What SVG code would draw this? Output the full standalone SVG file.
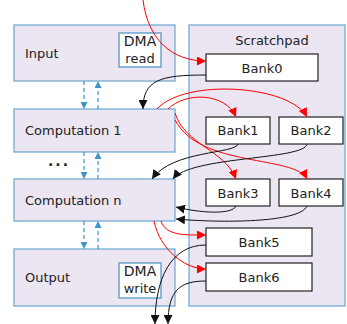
<svg xmlns="http://www.w3.org/2000/svg" width="347" height="324" viewBox="0 0 347 324">
<defs>
<style>
.box{fill:#ebe6f2;stroke:#6aa6cf;stroke-width:1.2}
.inner{fill:#ffffff;stroke:#4a8fc0;stroke-width:1.2}
.bank{fill:#ffffff;stroke:#222222;stroke-width:1.2}
text{font-family:"DejaVu Sans","Liberation Sans",sans-serif;font-size:13px;fill:#222222}
.c{text-anchor:middle}
.dma{font-size:14px}
.red{fill:none;stroke:#ff0000;stroke-width:1;marker-end:url(#ar)}
.blk{fill:none;stroke:#111111;stroke-width:1;marker-end:url(#ab)}
.dash{fill:none;stroke:#3a95c8;stroke-width:1.2;stroke-dasharray:4,3;marker-end:url(#au)}
</style>
<marker id="ar" viewBox="0 0 10 10" refX="10" refY="5" markerWidth="9" markerHeight="9" markerUnits="userSpaceOnUse" orient="auto"><path d="M0,0 L10,5 L0,10 z" fill="#ff0000"/></marker>
<marker id="ab" viewBox="0 0 10 10" refX="10" refY="5" markerWidth="9" markerHeight="9" markerUnits="userSpaceOnUse" orient="auto"><path d="M0,0 L10,5 L0,10 z" fill="#111111"/></marker>
<marker id="au" viewBox="0 0 10 10" refX="10" refY="5" markerWidth="7" markerHeight="7" markerUnits="userSpaceOnUse" orient="auto"><path d="M0,0 L10,5 L0,10 z" fill="#3a95c8"/></marker>
</defs>
<rect width="347" height="324" fill="#ffffff"/>
<g id="scratchpad"><rect class="box" x="189" y="25" width="156" height="281"/><text class="c" x="272" y="45">Scratchpad</text></g>
<g id="input"><rect class="box" x="14" y="25" width="161" height="56"/><text x="25" y="58">Input</text></g>
<g id="dma-read"><rect class="inner" x="119" y="33" width="42" height="34"/><text class="c dma" x="140" y="46">DMA</text><text class="c" x="140" y="63">read</text></g>
<g id="comp1"><rect class="box" x="14" y="109" width="161" height="43"/><text x="25" y="135">Computation 1</text></g>
<g id="dots"><text x="48" y="166" style="font-size:14px;font-weight:bold;letter-spacing:2px">...</text></g>
<g id="compn"><rect class="box" x="14" y="179" width="161" height="42"/><text x="25" y="205">Computation n</text></g>
<g id="output"><rect class="box" x="14" y="249" width="161" height="57"/><text x="25" y="282">Output</text></g>
<g id="dma-write"><rect class="inner" x="119" y="263" width="42" height="35"/><text class="c dma" x="140" y="276">DMA</text><text class="c" x="140" y="293">write</text></g>
<g id="bank0"><rect class="bank" x="206" y="54" width="112" height="27"/><text class="c" x="262" y="73">Bank0</text></g>
<g id="bank1"><rect class="bank" x="206" y="117" width="64" height="27"/><text class="c" x="238" y="135">Bank1</text></g>
<g id="bank2"><rect class="bank" x="279" y="117" width="64" height="27"/><text class="c" x="311" y="135">Bank2</text></g>
<g id="bank3"><rect class="bank" x="206" y="179" width="64" height="27"/><text class="c" x="238" y="198">Bank3</text></g>
<g id="bank4"><rect class="bank" x="279" y="179" width="64" height="27"/><text class="c" x="311" y="198">Bank4</text></g>
<g id="bank5"><rect class="bank" x="206" y="228" width="106" height="28"/><text class="c" x="259" y="247">Bank5</text></g>
<g id="bank6"><rect class="bank" x="206" y="263" width="106" height="28"/><text class="c" x="259" y="282">Bank6</text></g>
<g id="connectors">
<path class="dash" d="M84,81 L84,109"/>
<path class="dash" d="M98,109 L98,81"/>
<path class="dash" d="M84,152 L84,179"/>
<path class="dash" d="M98,179 L98,152"/>
<path class="dash" d="M84,221 L84,249"/>
<path class="dash" d="M98,249 L98,221"/>
<path class="red" d="M143,0 C148,40 172,61 206,61"/>
<path class="blk" d="M206,75 C160,75 143,80 143,109"/>
<path class="red" d="M168,109 C185,92 225,92 236,117"/>
<path class="red" d="M157,109 C185,78 290,85 307,117"/>
<path class="red" d="M175,113 C185,145 225,150 236,179"/>
<path class="red" d="M175,120 C200,168 295,155 307,179"/>
<path class="blk" d="M238,144 C236,154 172,150 152,179"/>
<path class="blk" d="M307,144 C305,160 190,156 173,179"/>
<path class="blk" d="M236,206 C232,215 200,213 176,207"/>
<path class="blk" d="M307,206 C300,223 220,223 176,219"/>
<path class="red" d="M161,221 C166,236 185,235 206,235"/>
<path class="red" d="M154,221 C160,250 185,269 206,269"/>
<path class="blk" d="M206,245 C170,245 155,280 155,324"/>
<path class="blk" d="M206,281 C180,281 168,290 168,324"/>
</g>
</svg>
